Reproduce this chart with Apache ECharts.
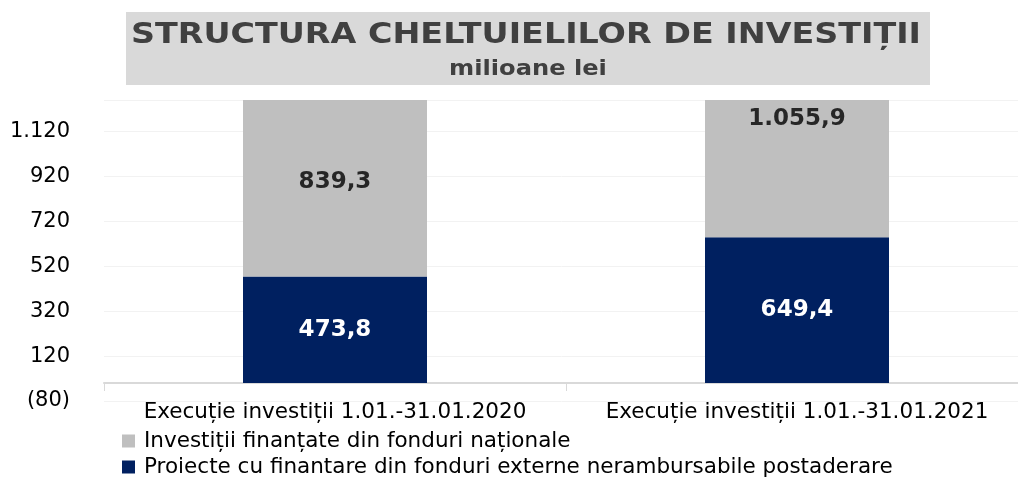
<!DOCTYPE html>
<html>
<head>
<meta charset="utf-8">
<script src="https://cdn.jsdelivr.net/npm/echarts@6/dist/echarts.min.js"></script>
<style>
  html, body { margin: 0; padding: 0; background: #fff; }
  #chart { width: 1018px; height: 479px; }
</style>
</head>
<body>
<div id="chart"></div>
<script>
// date
const categories = ['Execuție investiții 1.01.-31.01.2020', 'Execuție investiții 1.01.-31.01.2021']
const externe = [473.8, 649.4]
const nationale = [839.3, 1055.9]
const seriesNames = ['Investiții finanțate din fonduri naționale', 'Proiecte cu finantare din fonduri externe nerambursabile postaderare']
const yMin = -80
const yMax = 1260
const yStep = 200

function fmtNum (v, dec) {
  const neg = v < 0
  let s = Math.abs(v).toFixed(dec)
  let parts = s.split('.')
  parts[0] = parts[0].replace(/\B(?=(\d{3})+(?!\d))/g, '.')
  s = parts.join(',')
  return neg ? '(' + s + ')' : s
}

// centrul segmentului gri (eticheta e pusa la mijlocul segmentului real)
const grayCenters = categories.map((c, i) => [i, externe[i] + nationale[i] / 2])

const font = 'DejaVu Sans'
const legendText = { fontFamily: font, fontSize: 21.5, color: '#000', padding: [0, 0, 0, 4] }
const myChart = echarts.init(document.getElementById('chart'))
myChart.setOption({
  animation: false,
  graphic: [
    { type: 'rect', shape: { x: 126, y: 12, width: 804, height: 73 }, style: { fill: '#d9d9d9' }, z: 0 },
    { type: 'text', x: 526, y: 35, scaleX: 1.15, style: { text: 'STRUCTURA CHELTUIELILOR DE INVESTIȚII', font: 'bold 29px "DejaVu Sans"', fill: '#404040', textAlign: 'center', textVerticalAlign: 'middle' }, z: 1 },
    { type: 'text', x: 528, y: 70, scaleX: 1.15, style: { text: 'milioane lei', font: 'bold 21px "DejaVu Sans"', fill: '#404040', textAlign: 'center', textVerticalAlign: 'middle' }, z: 1 }
  ],
  grid: { left: 104, width: 924, top: 100, bottom: 78, outerBoundsMode: 'none' },
  legend: [
    { left: 117, top: 425, icon: 'rect', itemWidth: 13, itemHeight: 13, data: [seriesNames[0]], textStyle: legendText },
    { left: 117, top: 451, icon: 'rect', itemWidth: 13, itemHeight: 13, data: [seriesNames[1]], textStyle: legendText }
  ],
  xAxis: {
    type: 'category',
    data: categories,
    axisLine: { lineStyle: { color: '#d9d9d9', width: 2 } },
    axisTick: { show: true, length: 8, lineStyle: { color: '#d9d9d9' } },
    axisLabel: { fontFamily: font, fontSize: 21.5, color: '#000', margin: 0, interval: 0 }
  },
  yAxis: {
    type: 'value',
    min: yMin,
    max: yMax,
    interval: yStep,
    axisLine: { show: false },
    axisTick: { show: false },
    splitLine: { lineStyle: { color: '#f2f2f2' } },
    axisLabel: {
      fontFamily: font, fontSize: 21, color: '#000', margin: 34, showMaxLabel: false,
      formatter: v => ((v - yMin) % yStep === 0 ? fmtNum(v, 0) : '')
    }
  },
  series: [
    {
      name: seriesNames[1],
      type: 'bar',
      stack: 'total',
      barWidth: 184,
      data: externe,
      itemStyle: { color: '#002060' },
      label: { show: true, position: 'inside', formatter: p => fmtNum(p.value, 1), fontFamily: font, fontWeight: 'bold', fontSize: 23, color: '#fff' }
    },
    {
      name: seriesNames[0],
      type: 'bar',
      stack: 'total',
      barWidth: 184,
      data: nationale,
      itemStyle: { color: '#bfbfbf' }
    },
    {
      type: 'scatter',
      symbolSize: 0,
      data: grayCenters,
      z: 5,
      label: { show: true, position: 'inside', formatter: p => fmtNum(nationale[p.dataIndex], 1), fontFamily: font, fontWeight: 'bold', fontSize: 23, color: '#000' },
      tooltip: { show: false }
    }
  ]
})
</script>
</body>
</html>
